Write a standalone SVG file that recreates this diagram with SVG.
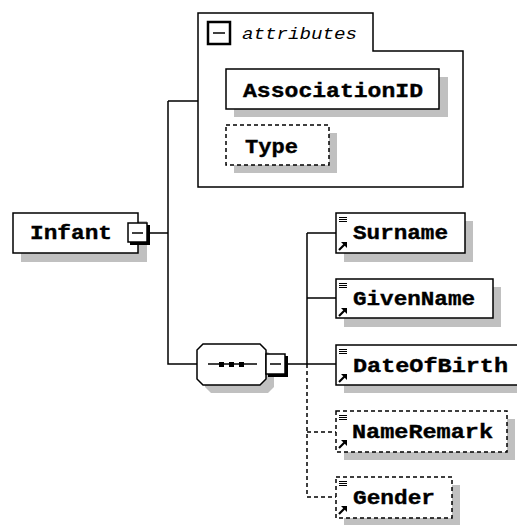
<svg xmlns="http://www.w3.org/2000/svg" width="517" height="525" viewBox="0 0 517 525">
<defs>
<style>
.ln{stroke:#000;stroke-width:1.5;fill:none}
.dl{stroke:#000;stroke-width:1.5;fill:none;stroke-dasharray:4,3}
.bx{fill:#fff;stroke:#000;stroke-width:1.5}
.dbx{fill:#fff;stroke:#000;stroke-width:1.5;stroke-dasharray:4,3}
.sh{fill:#c0c0c0}
.t{font-family:"Liberation Mono","DejaVu Sans Mono",monospace;font-weight:bold;font-size:21px;fill:#000;stroke:#000;stroke-width:0.4}
.it{font-family:"Liberation Mono","DejaVu Sans Mono",monospace;font-style:italic;font-size:16px;fill:#000}
</style>
<g id="ico">
<rect x="3" y="4" width="8" height="1" fill="#000"/>
<rect x="3" y="6" width="8" height="1" fill="#000"/>
<rect x="3" y="8" width="8" height="1" fill="#000"/>
<path d="M3,37L9,31" stroke="#000" stroke-width="2.2"/>
<path d="M5,29h6v6z" fill="#000"/>
</g>
</defs>
<rect width="517" height="525" fill="#fff"/>
<g id="connectors">
<path class="ln" d="M150,233H168M168,101V364H197M168,101H198"/>
<path class="ln" d="M288,364H336M307,233V364M307,233H336M307,298H336"/>
<path class="dl" d="M307,364V497H336M307,432H336"/>
</g>
<g id="attributes">
<path class="bx" d="M198,13H373V51H463V187H198Z"/>
<rect x="208" y="22" width="22" height="22" fill="#fff" stroke="#000" stroke-width="2.5"/>
<path d="M213,33H225" stroke="#000" stroke-width="1.5"/>
<text class="it" x="242" y="39" textLength="115" lengthAdjust="spacingAndGlyphs">attributes</text>
</g>
<g id="AssociationID">
<rect class="sh" x="234" y="77" width="214" height="40"/>
<rect class="bx" x="226" y="69" width="213" height="40"/>
<text class="t" x="243" y="97" textLength="180" lengthAdjust="spacingAndGlyphs">AssociationID</text>
</g>
<g id="Type">
<rect class="sh" x="234" y="133" width="103" height="40"/>
<rect class="dbx" x="226" y="125" width="103" height="40"/>
<text class="t" x="245" y="153" textLength="53" lengthAdjust="spacingAndGlyphs">Type</text>
</g>
<g id="Infant">
<rect class="sh" x="21" y="221" width="126" height="41"/>
<rect class="bx" x="13" y="213" width="125" height="40"/>
<text class="t" x="30" y="239" textLength="82" lengthAdjust="spacingAndGlyphs">Infant</text>
<rect x="130" y="225" width="20" height="20" fill="#000"/>
<rect x="128" y="223" width="19" height="19" fill="#fff" stroke="#000" stroke-width="1.5"/>
<path d="M132,233H143" stroke="#000" stroke-width="1.5"/>
</g>
<g id="sequence">
<path class="sh" d="M211,352H268L274,358V387L268,393H211L205,387V358Z"/>
<path class="bx" d="M203,344H260L266,350V379L260,385H203L197,379V350Z"/>
<path d="M208,364H257" stroke="#000" stroke-width="1.5"/>
<rect x="219" y="362" width="5" height="5" fill="#000"/>
<rect x="229" y="362" width="5" height="5" fill="#000"/>
<rect x="239" y="362" width="5" height="5" fill="#000"/>
<rect x="268" y="356" width="20" height="21" fill="#000"/>
<rect x="266" y="354" width="19" height="20" fill="#fff" stroke="#000" stroke-width="1.5"/>
<path d="M270,364H281" stroke="#000" stroke-width="1.5"/>
</g>
<g id="Surname">
<rect class="sh" x="344" y="221" width="129" height="41"/>
<rect class="bx" x="336" y="213" width="129" height="40"/>
<use href="#ico" x="336" y="213"/>
<text class="t" x="353" y="239" textLength="95" lengthAdjust="spacingAndGlyphs">Surname</text>
</g>
<g id="GivenName">
<rect class="sh" x="344" y="287" width="157" height="40"/>
<rect class="bx" x="336" y="279" width="157" height="39"/>
<use href="#ico" x="336" y="279"/>
<text class="t" x="353" y="305" textLength="122" lengthAdjust="spacingAndGlyphs">GivenName</text>
</g>
<g id="DateOfBirth">
<rect class="sh" x="344" y="353" width="180" height="40"/>
<rect class="bx" x="336" y="345" width="190" height="40" stroke-width="2"/>
<use href="#ico" x="336" y="345"/>
<text class="t" x="353" y="372" textLength="155" lengthAdjust="spacingAndGlyphs">DateOfBirth</text>
</g>
<g id="NameRemark">
<rect class="sh" x="344" y="419" width="171" height="41"/>
<rect class="dbx" x="336" y="411" width="171" height="41"/>
<use href="#ico" x="336" y="411"/>
<text class="t" x="352" y="438" textLength="141" lengthAdjust="spacingAndGlyphs">NameRemark</text>
</g>
<g id="Gender">
<rect class="sh" x="344" y="485" width="116" height="41"/>
<rect class="dbx" x="336" y="477" width="116" height="41"/>
<use href="#ico" x="336" y="477"/>
<text class="t" x="353" y="504" textLength="82" lengthAdjust="spacingAndGlyphs">Gender</text>
</g>
</svg>
